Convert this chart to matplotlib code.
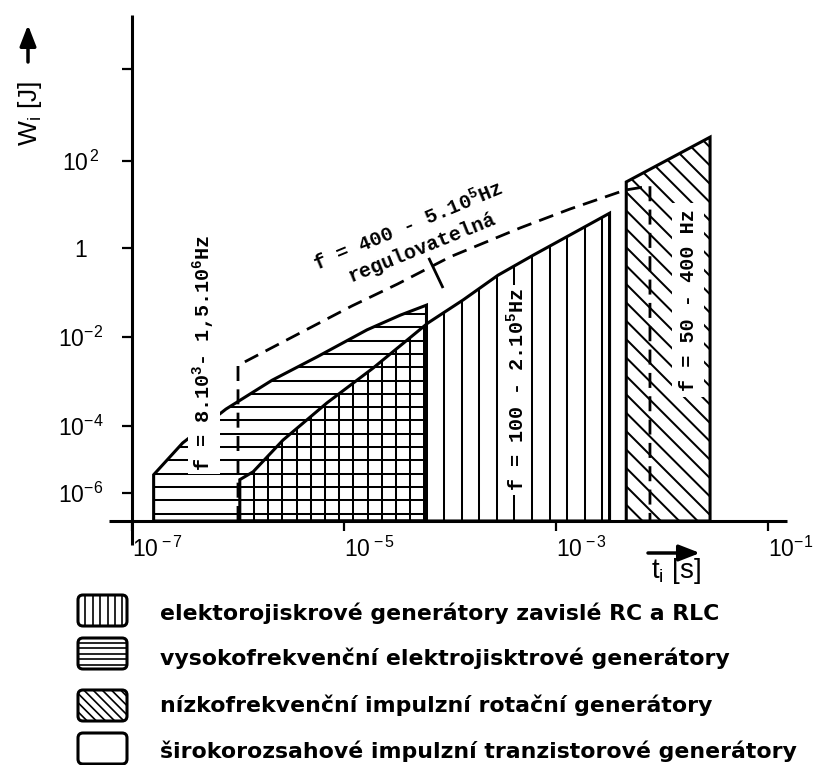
import numpy as np
import matplotlib
matplotlib.use("Agg")
import matplotlib.pyplot as plt
from matplotlib.patches import Polygon, FancyBboxPatch
from matplotlib.collections import LineCollection
from matplotlib.transforms import IdentityTransform

plt.rcParams.update({
    'mathtext.fontset': 'custom',
    'mathtext.sf': 'Liberation Sans',
    'mathtext.rm': 'Liberation Mono',
    'mathtext.bf': 'Liberation Mono:bold',
    'mathtext.it': 'Liberation Mono:italic',
    'font.family': ['Liberation Sans', 'DejaVu Sans'],
})

# ---------------- data ----------------
x_ticks = [1e-7, 1e-5, 1e-3, 1e-1]
x_tick_labels = [r'$\mathsf{10^{\,-7}}$', r'$\mathsf{10^{\,-5}}$',
                 r'$\mathsf{10^{\,-3}}$', r'$\mathsf{10^{-1}}$']
y_ticks = [1e-6, 1e-4, 1e-2, 1e0, 1e2, 1e4]
y_tick_labels = [r'$\mathsf{10^{-6}}$', r'$\mathsf{10^{-4}}$', r'$\mathsf{10^{-2}}$',
                 r'$\mathsf{1}$', r'$\mathsf{10^{\,2}}$', '']

# high-frequency spark generators (horizontal hatch): upper boundary
hf_t = [1.6e-7, 3.0e-7, 7.7e-7, 2.1e-6, 5.6e-6, 1.65e-5, 3.4e-5, 6.0e-5]
hf_W = [3.5e-6, 3.1e-5, 2.4e-4, 1.07e-3, 3.6e-3, 1.45e-2, 3.1e-2, 5.2e-2]

# RC / RLC spark generators (vertical hatch): upper boundary
rc_t = [1.04e-6, 1.39e-6, 2.66e-6, 6.9e-6, 1.88e-5, 6.2e-5, 1.33e-4,
        2.84e-4, 6.1e-4, 1.36e-3, 3.2e-3]
rc_W = [2.5e-6, 4.3e-6, 3.8e-5, 3.3e-4, 2.0e-3, 2.07e-2, 6.8e-2,
        0.245, 0.69, 2.0, 6.3]

# low-frequency rotary generators (diagonal hatch): upper boundary
rot_t = [4.6e-3, 2.84e-2]
rot_W = [33.0, 330.0]

# wide-range transistor generators (dashed envelope)
tr_t = [1.0e-6, 3.85e-6, 1.19e-5, 3.2e-5, 1.0e-4, 4.6e-4, 1.36e-3, 4.5e-3, 7.7e-3]
tr_W = [2.3e-3, 1.23e-2, 5.0e-2, 0.155, 0.63, 2.9, 7.9, 21.5, 26.6]

# pointer from the "regulovatelna" label to the dashed envelope
ptr_t = [6.3e-5, 8.6e-5]
ptr_W = [0.60, 0.126]

legend_labels = [
    'elektorojiskrové generátory zavislé RC a RLC',
    'vysokofrekvenční elektrojisktrové generátory',
    'nízkofrekvenční impulzní rotační generátory',
    'širokorozsahové impulzní tranzistorové generátory',
]

# ---------------- figure / axes ----------------
W, H, DPI = 814, 765, 100
fig = plt.figure(figsize=(W / DPI, H / DPI), dpi=DPI)
fig.patch.set_facecolor('white')

AX_L, AX_R, AX_T, AX_B = 132, 787, 15, 521
ax = fig.add_axes([AX_L / W, 1 - AX_B / H, (AX_R - AX_L) / W, (AX_B - AX_T) / H])

# the scanned energy axis is not evenly spaced: decade knots -> relative height
Y_KNOT_LOG = np.array([-12, -6, -4, -2, 0, 2, 4, 12], dtype=float)
Y_KNOT_POS = -np.array([694, 493, 426, 337, 248, 161, 69, -299], dtype=float)


def y_fwd(v):
    v = np.clip(np.asarray(v, dtype=float), 1e-300, None)
    return np.interp(np.log10(v), Y_KNOT_LOG, Y_KNOT_POS)


def y_inv(u):
    return 10.0 ** np.interp(np.asarray(u, dtype=float), Y_KNOT_POS, Y_KNOT_LOG)


ax.set_xscale('log')
ax.set_yscale('function', functions=(y_fwd, y_inv))
ax.set_xlim(1e-7, 10 ** (-7 + (AX_R - AX_L) / 106.0))
ax.set_ylim(10 ** -6.836, 10 ** 5.174)
FLOOR = ax.get_ylim()[0]

for s in ax.spines.values():
    s.set_visible(False)
ax.set_facecolor('none')
AXW = 2.2
ax.plot([0, 0], [-24 / (AX_B - AX_T), 1], transform=ax.transAxes, color='black',
        lw=AXW, clip_on=False, solid_capstyle='butt', zorder=4)
ax.plot([-23 / (AX_R - AX_L), 1], [0, 0], transform=ax.transAxes, color='black',
        lw=AXW, clip_on=False, solid_capstyle='butt', zorder=4)

ax.set_xticks(x_ticks)
ax.set_xticklabels(x_tick_labels)
ax.xaxis.set_minor_locator(matplotlib.ticker.NullLocator())
ax.set_yticks(y_ticks)
ax.set_yticklabels(y_tick_labels)
ax.tick_params(axis='both', direction='out', length=7.2, width=1.6, labelsize=16.5)
ax.tick_params(axis='x', pad=4)
ax.tick_params(axis='y', pad=30)
for lab in ax.get_xticklabels():
    lab.set_ha('left')
for lab in ax.get_yticklabels():
    lab.set_ha('center')


# ---------------- helpers for hatch lines ----------------
def add_lines(segs, clip, lw, parent=None):
    lc = LineCollection(segs, colors='black', linewidths=lw,
                        transform=IdentityTransform(), zorder=2, capstyle='butt')
    lc.set_clip_path(clip)
    if parent is None:
        fig.add_artist(lc)
    else:
        parent.add_collection(lc, autolim=False)


def parallel_segs(patch, angle, spacing, anchor):
    ext = patch.get_window_extent()
    th = np.deg2rad(angle)
    d = np.array([np.cos(th), np.sin(th)])
    n = np.array([-np.sin(th), np.cos(th)])
    corners = np.array([[ext.x0, ext.y0], [ext.x1, ext.y0],
                        [ext.x0, ext.y1], [ext.x1, ext.y1]])
    cn = corners @ n
    ca = np.dot(anchor, n)
    ks = np.arange(np.floor((cn.min() - ca) / spacing), np.ceil((cn.max() - ca) / spacing) + 1)
    cs = ca + spacing * ks
    cen = np.array([(ext.x0 + ext.x1) / 2, (ext.y0 + ext.y1) / 2])
    t0 = cen @ d
    L = ext.width + ext.height
    return [[c * n + (t0 - L) * d, c * n + (t0 + L) * d] for c in cs]


def vertical_segs(patch, xs):
    ext = patch.get_window_extent()
    return [[(x, ext.y0 - 5), (x, ext.y1 + 5)] for x in xs]


def region(ts, ws):
    verts = [(ts[0], FLOOR)] + list(zip(ts, ws)) + [(ts[-1], FLOOR)]
    p = Polygon(verts, closed=True, fc='none', ec='black', lw=2.2, zorder=3,
                joinstyle='miter')
    ax.add_patch(p)
    return p


def dx(t):
    return ax.transData.transform((t, 1.0))[0]


bottom_disp = ax.transAxes.transform((0, 0))[1]
HATCH_LW = 1.45

# RC region (vertical hatch, denser where it overlaps the HF region)
rc_patch = region(rc_t, rc_W)
xL, xM, xR = dx(rc_t[0]), dx(hf_t[-1]), dx(rc_t[-1])
xs = list(np.arange(xL + 14.2, xM - 1, 14.2)) + list(np.arange(xM + 17.6, xR - 2, 17.6))
add_lines(vertical_segs(rc_patch, xs), rc_patch, HATCH_LW, ax)

# HF region (horizontal hatch)
hf_patch = region(hf_t, hf_W)
add_lines(parallel_segs(hf_patch, 0, 13.3, np.array([0, bottom_disp + 7.5])),
          hf_patch, HATCH_LW, ax)

# rotary region (diagonal hatch)
rot_patch = region(rot_t, rot_W)
add_lines(parallel_segs(rot_patch, -45, 13.0, np.array([dx(rot_t[-1]), bottom_disp + 6])),
          rot_patch, HATCH_LW, ax)

# transistor generators: dashed envelope
ax.plot([tr_t[0]] + tr_t + [tr_t[-1]], [FLOOR] + tr_W + [FLOOR], color='black', lw=2.0,
        ls=(0, (5.4, 3.0)), zorder=3)
ax.plot(ptr_t, ptr_W, color='black', lw=2.0, zorder=3, solid_capstyle='butt')


# ---------------- texts inside the chart ----------------
def ptext(xp, yp, s, **kw):
    return fig.text(xp, H - yp, s, transform=IdentityTransform(), **kw)


mono = dict(family='Liberation Mono', weight='bold', fontsize=14.5, color='black')
wbox = dict(boxstyle='square,pad=0.15', fc='white', ec='none')
ptext(204, 353, r'f = 8.10$^{\mathbf{3}}$- 1,5.10$^{\mathbf{6}}$Hz', rotation=90,
      ha='center', va='center', bbox=wbox, **mono)
ptext(408, 226, r'f = 400 - 5.10$^{\mathbf{5}}$Hz', rotation=22.5, rotation_mode='anchor',
      ha='center', va='center', **mono)
ptext(422, 248, 'regulovatelná', rotation=22, rotation_mode='anchor',
      ha='center', va='center', **mono)
ptext(517, 390, r'f = 100 - 2.10$^{\mathbf{5}}$Hz', rotation=90,
      ha='center', va='center', bbox=wbox, **mono)
ptext(688, 300, 'f = 50 - 400 Hz', rotation=90, ha='center', va='center',
      bbox=dict(boxstyle='square,pad=0.3', fc='white', ec='none'), **mono)

# axis titles and arrows
ptext(30, 113, r'W$_{\mathsf{i}}$ [J]', rotation=90, ha='center', va='center', fontsize=19)
ptext(676, 571, r't$_{\mathsf{i}}$ [s]', ha='center', va='center', fontsize=20)
arrow = dict(arrowstyle='-|>,head_length=0.9,head_width=0.35', lw=2.5, color='black',
             mutation_scale=14, shrinkA=0, shrinkB=0)
ax.annotate('', xy=(28, H - 25), xytext=(28, H - 62), xycoords='figure pixels',
            textcoords='figure pixels', arrowprops=arrow)
ax.annotate('', xy=(700, H - 553), xytext=(648, H - 553), xycoords='figure pixels',
            textcoords='figure pixels', arrowprops=arrow)

# ---------------- legend ----------------
box_tops = [595, 638, 690, 733]
text_base = [620, 665, 712, 758]
BX, BW, BH = 78, 49, 31
for i, lab in enumerate(legend_labels):
    y0 = H - box_tops[i] - BH
    bp = FancyBboxPatch((BX, y0), BW, BH, boxstyle='round,pad=0,rounding_size=5',
                        transform=IdentityTransform(), fc='none', ec='black', lw=2.2, zorder=3)
    fig.add_artist(bp)
    if i == 0:
        segs = vertical_segs(bp, np.arange(BX + 7.4, BX + BW - 3, 7.4))
        add_lines(segs, bp, 1.2)
    elif i == 1:
        segs = parallel_segs(bp, 0, 5.6, np.array([0, y0 + 4]))
        add_lines(segs, bp, 1.2)
    elif i == 2:
        segs = parallel_segs(bp, -45, 6.5, np.array([BX, y0]))
        add_lines(segs, bp, 1.2)
    ptext(160, text_base[i], lab, ha='left', va='baseline', fontsize=15.8,
          family='DejaVu Sans', weight='bold')

fig.savefig('out.png', dpi=DPI, facecolor='white')
